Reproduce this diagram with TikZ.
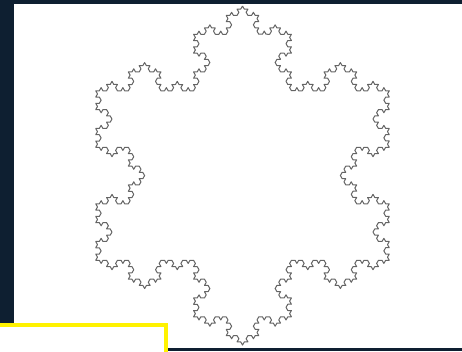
\documentclass[tikz,border=0pt]{standalone}
\usetikzlibrary{decorations.fractals}
\definecolor{slidebg}{RGB}{14,31,49}
\definecolor{curvegray}{RGB}{100,100,100}
\begin{document}
\begin{tikzpicture}[x=0.5mm,y=-0.5mm,decoration=Koch snowflake]
\useasboundingbox (0,0) rectangle (462,351);
\fill[slidebg] (0,0) rectangle (462,351);
\fill[white] (14,4) rectangle (462,348);
\fill[white] (0,325) rectangle (166,351);
\draw[yellow,line width=2mm] (0,325) -- (166,325) -- (166,352);

\coordinate (tip) at (242.5,6);
\coordinate (right) at (389.3,260.3);
\coordinate (left) at (95.7,260.3);
\draw[curvegray,line width=0.5mm,line join=round]
  decorate{decorate{decorate{decorate{(tip) -- (right) -- (left) -- (tip)}}}};
\end{tikzpicture}
\end{document}
